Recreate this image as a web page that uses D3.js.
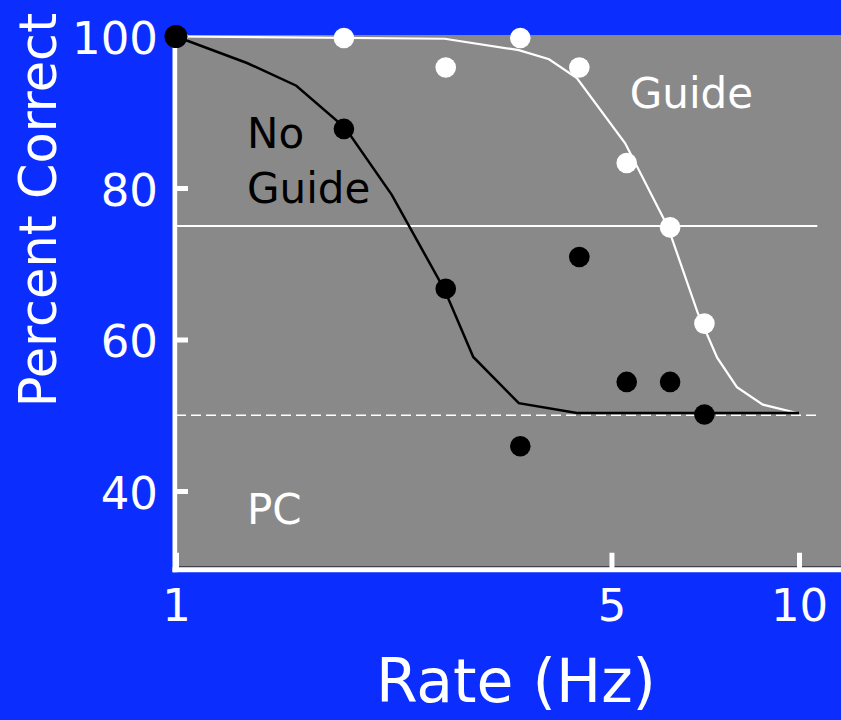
<!DOCTYPE html>
<html>
<head>
<meta charset="utf-8">
<script src="https://cdn.jsdelivr.net/npm/d3@7"></script>
<style>
  body { margin: 0; background: #0b2eff; overflow: hidden; }
  text { font-family: "DejaVu Sans", sans-serif; }
</style>
</head>
<body>
<div id="chart"></div>
<script>
// rate (Hz) and percent correct for each condition
const rates      = [1, 1.86, 2.71, 3.57, 4.44, 5.29, 6.21, 7.05];
const noGuidePC  = [100, 87.8, 66.7, 45.9, 70.9, 54.4, 54.4, 50.1];
const guidePC    = [100, 99.8, 95.9, 99.8, 95.9, 83.3, 74.8, 62.1];

// fitted curves
const noGuideFitRate = [1, 1.30, 1.56, 1.87, 2.22, 2.70, 3.00, 3.55, 4.40, 10];
const noGuideFitPC   = [100, 96.5, 93.5, 87.9, 79.1, 66.5, 57.7, 51.6, 50.3, 50.3];
const guideFitRate   = [1, 2.70, 3.55, 3.97, 4.40, 5.26, 6.16, 6.88, 7.39, 7.95, 8.75, 9.93];
const guideFitPC     = [100, 99.7, 98.2, 97.0, 94.5, 85.9, 74.85, 63.5, 57.6, 53.7, 51.4, 50.3];

// reference lines: threshold and chance
const threshold = 75;
const chance = 50;
const refLineEnd = 10.7;

const xTicks = [1, 5, 10];
const yTicks = [40, 60, 80, 100];

/**
* CONSTANTS
* */
const width = 841,
      height = 720;

const blue = "#0b2eff",
      grey = "#898989";

const x = d3.scaleLog().domain([1, 10]).range([176, 799]);
const y = d3.scaleLinear().domain([30, 100]).range([566.75, 36.5]);

const svg = d3.select("#chart")
  .append("svg")
  .attr("width", width)
  .attr("height", height)
  .style("display", "block");

svg.append("rect")
  .attr("width", width)
  .attr("height", height)
  .attr("fill", blue);

// grey plot area
svg.append("rect")
  .attr("x", x(1) + 2)
  .attr("y", y(100) - 1.5)
  .attr("width", width - x(1) - 2)
  .attr("height", y(30) - y(100) + 1.5)
  .attr("fill", grey);

// thin dark line along the bottom of the plot
svg.append("line")
  .attr("x1", x(1) + 2).attr("x2", width)
  .attr("y1", y(30)).attr("y2", y(30))
  .attr("stroke", "#333")
  .attr("stroke-width", 1.2);

// threshold + chance lines
svg.append("line")
  .attr("x1", x(1)).attr("x2", x(refLineEnd))
  .attr("y1", y(threshold)).attr("y2", y(threshold))
  .attr("stroke", "white")
  .attr("stroke-width", 2);

svg.append("line")
  .attr("x1", x(1)).attr("x2", x(refLineEnd))
  .attr("y1", y(chance)).attr("y2", y(chance))
  .attr("stroke", "white")
  .attr("stroke-width", 1.6)
  .attr("stroke-dasharray", "10,5");

// axes
const xAxis = svg.append("g")
  .attr("transform", `translate(0, ${y(30) + 3})`)
  .call(d3.axisBottom(x)
    .tickValues(xTicks)
    .tickFormat(d3.format("d"))
    .tickSize(-17)
    .tickSizeOuter(0)
    .tickPadding(19));

const yAxis = svg.append("g")
  .attr("transform", `translate(${x(1)}, 0)`)
  .call(d3.axisLeft(y)
    .tickValues(yTicks)
    .tickSize(-12)
    .tickSizeOuter(0)
    .tickPadding(18));

[xAxis, yAxis].forEach(g => {
  g.select(".domain").remove();
  g.selectAll(".tick line")
    .attr("stroke", "white")
    .attr("stroke-width", 5);
  g.selectAll(".tick text")
    .attr("fill", "white")
    .style("font-size", "45px");
});
xAxis.selectAll(".tick text").attr("dy", "0.71em");
yAxis.selectAll(".tick text").attr("dy", "0.38em");

// axis lines
svg.append("line")
  .attr("x1", x(1) - 1).attr("x2", x(1) - 1)
  .attr("y1", y(100) - 1.5).attr("y2", y(30) + 5.5)
  .attr("stroke", "white")
  .attr("stroke-width", 5);

svg.append("line")
  .attr("x1", x(1) - 3.5).attr("x2", width)
  .attr("y1", y(30) + 3).attr("y2", y(30) + 3)
  .attr("stroke", "white")
  .attr("stroke-width", 5);

// fitted curves
const line = d3.line()
  .x(d => x(d[0]))
  .y(d => y(d[1]));

svg.append("path")
  .datum(guideFitRate.map((r, i) => [r, guideFitPC[i]]))
  .attr("d", line)
  .attr("fill", "none")
  .attr("stroke", "white")
  .attr("stroke-width", 2.2);

svg.append("path")
  .datum(noGuideFitRate.map((r, i) => [r, noGuideFitPC[i]]))
  .attr("d", line)
  .attr("fill", "none")
  .attr("stroke", "black")
  .attr("stroke-width", 2.5);

// data points
svg.selectAll(".guide-dot")
  .data(rates.map((r, i) => [r, guidePC[i]]))
  .enter()
  .append("circle")
  .attr("class", "guide-dot")
  .attr("cx", d => x(d[0]))
  .attr("cy", d => y(d[1]))
  .attr("r", 10.3)
  .attr("fill", "white");

svg.selectAll(".noguide-dot")
  .data(rates.map((r, i) => [r, noGuidePC[i]]))
  .enter()
  .append("circle")
  .attr("class", "noguide-dot")
  .attr("cx", d => x(d[0]))
  .attr("cy", d => y(d[1]))
  .attr("r", (d, i) => i === 0 ? 11.5 : 10.3)
  .attr("fill", "black");

// labels inside the plot
const notes = [
  { text: "No",    rate: 1.30, pc: 85.3, color: "black" },
  { text: "Guide", rate: 1.30, pc: 78.0, color: "black" },
  { text: "Guide", rate: 5.35, pc: 90.6, color: "white" },
  { text: "PC",    rate: 1.30, pc: 35.6, color: "white" }
];

svg.selectAll(".note")
  .data(notes)
  .enter()
  .append("text")
  .attr("class", "note")
  .attr("x", d => x(d.rate))
  .attr("y", d => y(d.pc))
  .attr("fill", d => d.color)
  .style("font-size", "42px")
  .text(d => d.text);

// axis titles
svg.append("text")
  .attr("x", 516)
  .attr("y", 702)
  .attr("text-anchor", "middle")
  .attr("fill", "white")
  .style("font-size", "60px")
  .text("Rate (Hz)");

svg.append("text")
  .attr("transform", "translate(56, 210) rotate(-90)")
  .attr("text-anchor", "middle")
  .attr("fill", "white")
  .style("font-size", "51px")
  .text("Percent Correct");
</script>
</body>
</html>
